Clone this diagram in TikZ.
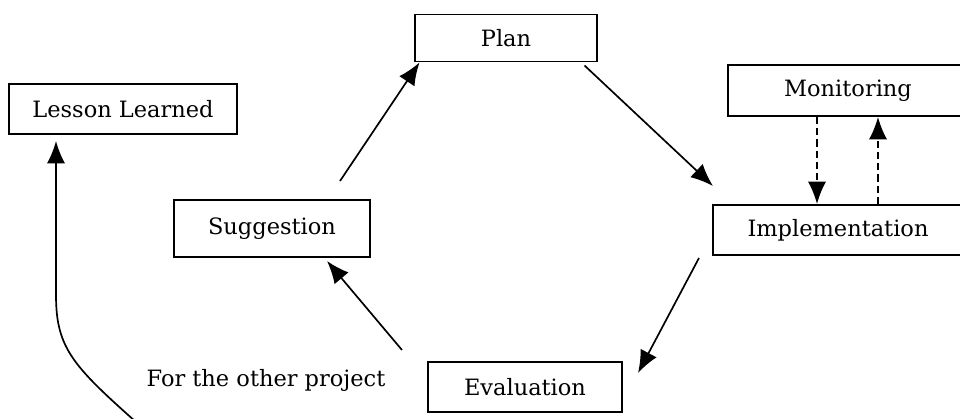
\documentclass[tikz,border=0pt]{standalone}
\usepackage{fontspec}
\setmainfont{DejaVu Serif}
\usetikzlibrary{arrows.meta,calc}

\begin{document}
\begin{tikzpicture}[
    x=0.025cm, y=-0.025cm,
    block/.style={rectangle, draw, line width=1.4pt,
                  minimum height=1.25cm, text centered,
                  font=\fontsize{16}{18}\selectfont, inner sep=0pt},
    arrow/.style={-{Latex[length=16pt,width=13pt]}, line width=1.2pt},
    dasharrow/.style={arrow, dash pattern=on 5pt off 3pt}
]
\useasboundingbox (0,0) rectangle (960,419);
\clip (0,0) rectangle (960,419);

\node[block, minimum width=5.7cm] (lesson) at (123,109) {Lesson Learned};
\node[block, minimum width=4.525cm, minimum height=1.175cm] (plan) at (506,38) {Plan};
\node[block, minimum width=6.0cm, minimum height=1.275cm] (monitor) at (848,90.5) {Monitoring};
\node[block, minimum width=6.25cm] (impl) at (838,230) {Implementation};
\node[block, minimum width=4.9cm, minimum height=1.425cm] (sugg) at (272,228.5) {Suggestion};
\node[block, minimum width=4.85cm] (eval) at (525,387) {Evaluation};
\node[font=\fontsize{16}{18}\selectfont] (other) at (266,380) {For the other project};

% cycle
\draw[arrow] ([shift={(68,-18)}]sugg.north) -- ([shift={(5,0)}]plan.south west);
\draw[arrow] ([shift={(-13,3)}]plan.south east) -- ([shift={(1,-18)}]impl.north west);
\draw[arrow] ([shift={(-13,2)}]impl.south west) -- ([shift={(15,-14)}]eval.east);
\draw[arrow] ([shift={(-25,-11)}]eval.north west) -- ([shift={(-44,3)}]sugg.south east);

% monitoring loop
\draw[dasharrow] ([shift={(-31,0)}]monitor.south) -- ([shift={(-31,0)}]monitor.south |- impl.north);
\draw[dasharrow] ([shift={(30,0)}]monitor.south |- impl.north) -- ([shift={(30,0)}]monitor.south);

% lessons go back up
\coordinate (src) at (145,430);
\draw[arrow] (src) .. controls (74,367) and (56,350) .. (56,295) -- ([shift={(-67,6)}]lesson.south);
\end{tikzpicture}
\end{document}
